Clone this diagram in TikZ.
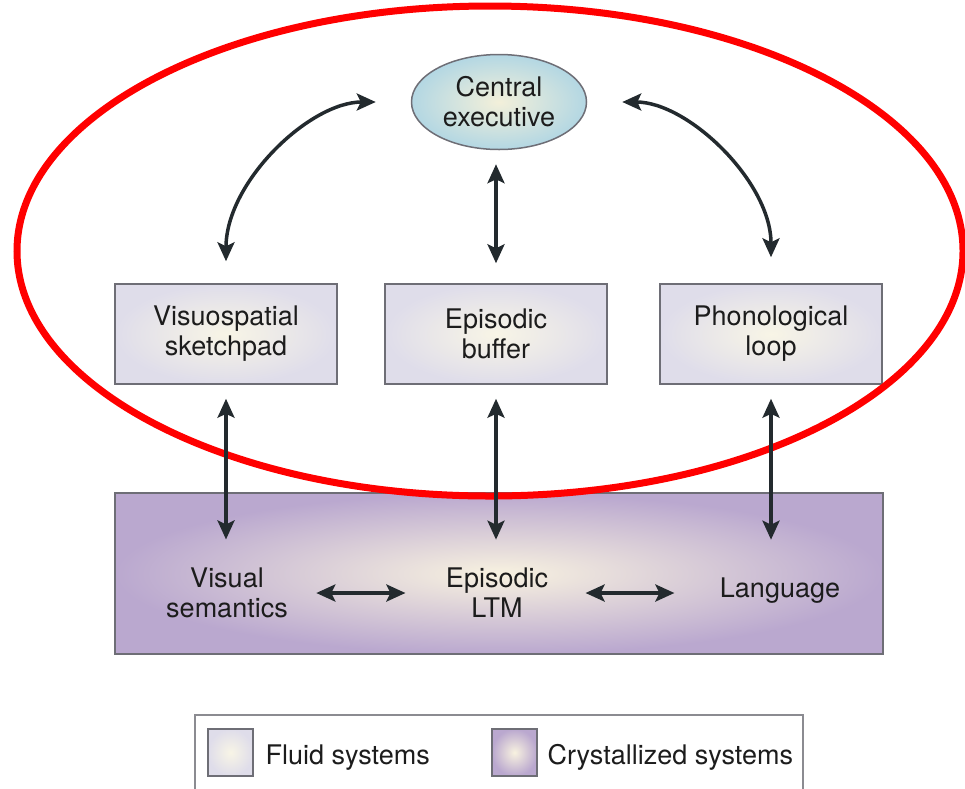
\documentclass[tikz,border=0pt]{standalone}
\usepackage{fontspec}
\setmainfont{TeX Gyre Heros}
\usepackage{tikz}
\usetikzlibrary{positioning,shapes,calc,arrows.meta}

\definecolor{fluidout}{HTML}{DFDDEA}
\definecolor{fluidin}{HTML}{F8F5E6}
\definecolor{crystout}{HTML}{BAA8CF}
\definecolor{crystin}{HTML}{F8F2E0}
\definecolor{ceout}{HTML}{B3D7E3}
\definecolor{cein}{HTML}{F3F0DA}
\definecolor{edgegray}{HTML}{6E6E76}
\definecolor{arrowgray}{HTML}{232A2E}
\definecolor{textgray}{HTML}{1C1C1C}

\begin{document}
\begin{tikzpicture}[x=1pt,y=1pt]
		\tikzset{every node/.style={font=\fontsize{27}{30}\selectfont, text=textgray}}
		\tikzset{fluidbox/.style={draw=edgegray, line width=1.5pt, shading=radial, inner color=fluidin, outer color=fluidout, minimum width=222pt, minimum height=100pt, align=center}}
		\tikzset{crystbox/.style={draw=edgegray, line width=1.5pt, shading=radial, inner color=crystin, outer color=crystout}}
		\tikzset{linkarrow/.style={{Stealth[length=19pt,width=17pt,inset=4pt]}-{Stealth[length=19pt,width=17pt,inset=4pt]}, line width=3.5pt, draw=arrowgray}}
		
		%\draw[help lines, blue] (0,0) grid[step=50] (965,-788);
		\useasboundingbox (0,0) rectangle (965,-788);
		
		\newcommand\drawFluid[4] % {x} {y} {label} {name}
		{
			\node[fluidbox] at (#1, #2) (#4) {#3};
		}
		
		\newcommand\drawText[4] % {x} {y} {label} {name}
		{
			\node[align=center] at (#1, #2) (#4) {#3};
		}
		
		\node[ellipse, draw=edgegray, line width=1.5pt, shading=radial, inner color=cein, outer color=ceout,
		minimum width=175pt, minimum height=95pt, inner sep=0pt, align=center] at (499,-102) (ce) {Central\\executive};
		
		\drawFluid{226}{-334}{Visuospatial\\sketchpad}{vs}
		\drawFluid{496}{-334}{Episodic\\buffer}{eb}
		\drawFluid{771}{-334}{Phonological\\loop}{pl}
		
		\node[crystbox, minimum width=768pt, minimum height=161pt] at (499,-573.5) (ltm) {};
		
		\drawText{227}{-593}{Visual\\semantics}{vsem}
		\drawText{497}{-593}{Episodic\\LTM}{eltm}
		\drawText{780}{-591}{Language}{lang}
		
		% legend
		\node[draw=edgegray!80, line width=1.5pt, fill=white, minimum width=608pt, minimum height=76pt] at (499,-753) (key) {};
		\node[fluidbox, minimum width=45pt, minimum height=47pt] at (230.5,-752.5) (fluidkey) {};
		\node[crystbox, minimum width=45pt, minimum height=47pt] at (514.5,-752.5) (crystkey) {};
		\node[anchor=base west] at (262,-764) (fluidtxt) {Fluid systems};
		\node[anchor=base west] at (544,-764) (crysttxt) {Crystallized systems};
		
		\draw[red, line width=7pt] (490,-251) ellipse [x radius=473, y radius=245];
		
		\draw[linkarrow, shorten <=22pt, shorten >=35pt] (vs.north) to[out=90, in=180] (ce.west);
		\draw[linkarrow, shorten <=35pt, shorten >=26pt] (ce.east) to[out=0, in=90] (pl.north);
		\draw[linkarrow, shorten <=14pt, shorten >=20pt] (eb.north |- ce.south) to (eb.north);
		
		\draw[linkarrow, shorten <=14pt, shorten >=25pt] (vs.south) to (vs.south |- vsem.north);
		\draw[linkarrow, shorten <=14pt, shorten >=25pt] (eb.south) to (eb.south |- eltm.north);
		\draw[linkarrow, shorten <=14pt, shorten >=35pt] (pl.south) to (pl.south |- lang.north);
		
		\draw[linkarrow, shorten <=25pt, shorten >=37pt] (vsem.east) to (vsem.east -| eltm.west);
		\draw[linkarrow, shorten <=34pt, shorten >=42pt] (eltm.east) to (eltm.east -| lang.west);
		
\end{tikzpicture}
\end{document}
